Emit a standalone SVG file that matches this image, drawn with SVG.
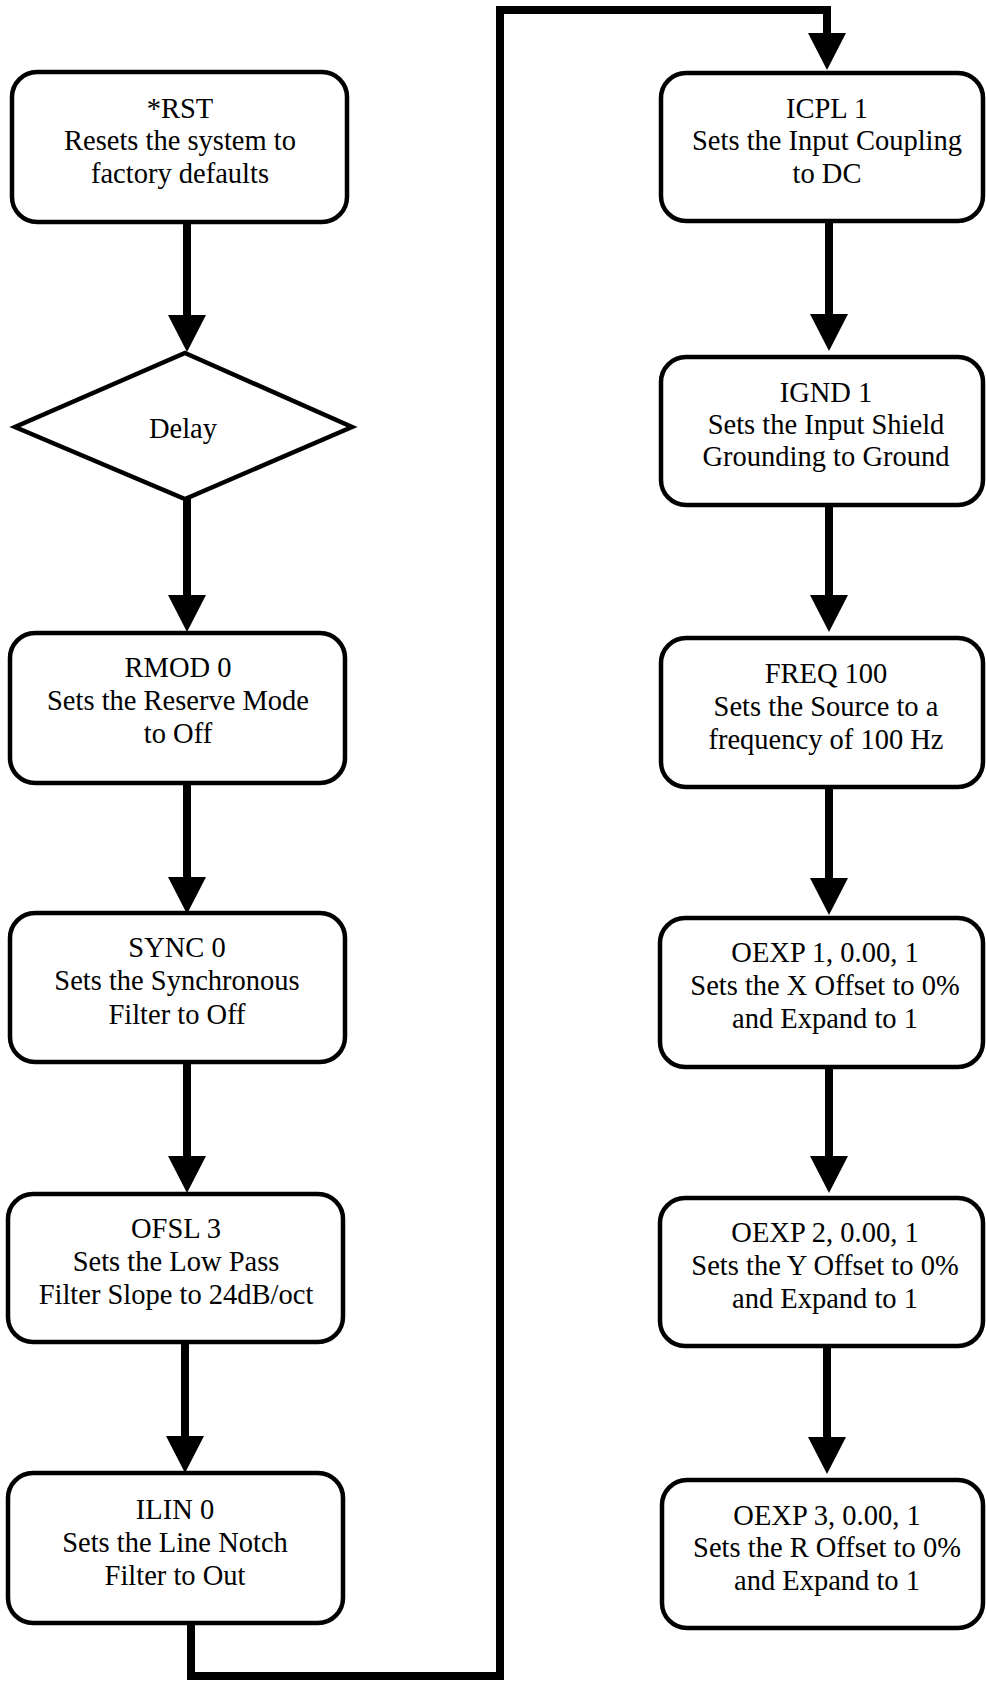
<svg xmlns="http://www.w3.org/2000/svg" width="986" height="1681" viewBox="0 0 986 1681">
<style>
  .box { fill: #fff; stroke: #000; stroke-width: 4.5; }
  .conn { fill: none; stroke: #000; stroke-width: 8; stroke-linejoin: miter; }
  text { font-family: "Liberation Serif", "Times New Roman", serif; font-size: 28.5px; fill: #000; text-anchor: middle; }
</style>
<defs>
  <marker id="ah" markerUnits="userSpaceOnUse" markerWidth="40" markerHeight="40" refX="1" refY="19" orient="auto">
    <path d="M0,0 L37,19 L0,38 z" fill="#000"/>
  </marker>
</defs>

<g id="connectors">
  <path class="conn" d="M187,222 V316" marker-end="url(#ah)"/>
  <path class="conn" d="M187,499 V596" marker-end="url(#ah)"/>
  <path class="conn" d="M187,783 V878" marker-end="url(#ah)"/>
  <path class="conn" d="M187,1062 V1157" marker-end="url(#ah)"/>
  <path class="conn" d="M185,1342 V1437" marker-end="url(#ah)"/>
  <path class="conn" d="M191,1623 V1676 H500 V10 H827 V34" marker-end="url(#ah)"/>
  <path class="conn" d="M829,221 V315" marker-end="url(#ah)"/>
  <path class="conn" d="M829,505 V596" marker-end="url(#ah)"/>
  <path class="conn" d="M829,787 V879" marker-end="url(#ah)"/>
  <path class="conn" d="M829,1067 V1157" marker-end="url(#ah)"/>
  <path class="conn" d="M827,1346 V1438" marker-end="url(#ah)"/>
</g>

<g id="node-rst">
  <rect class="box" x="12" y="72" width="335" height="150" rx="25"/>
  <text x="180" y="118">*RST</text>
  <text x="180" y="150">Resets the system to</text>
  <text x="180" y="183">factory defaults</text>
</g>
<g id="node-delay">
  <polygon class="box" points="185,353 352,427 185,499 15,427"/>
  <text x="183" y="438">Delay</text>
</g>
<g id="node-rmod">
  <rect class="box" x="10" y="633" width="335" height="150" rx="25"/>
  <text x="178" y="677">RMOD 0</text>
  <text x="178" y="710">Sets the Reserve Mode</text>
  <text x="178" y="743">to Off</text>
</g>
<g id="node-sync">
  <rect class="box" x="10" y="913" width="335" height="149" rx="25"/>
  <text x="177" y="957">SYNC 0</text>
  <text x="177" y="990">Sets the Synchronous</text>
  <text x="177" y="1024">Filter to Off</text>
</g>
<g id="node-ofsl">
  <rect class="box" x="8" y="1194" width="335" height="148" rx="25"/>
  <text x="176" y="1238">OFSL 3</text>
  <text x="176" y="1271">Sets the Low Pass</text>
  <text x="176" y="1304">Filter Slope to 24dB/oct</text>
</g>
<g id="node-ilin">
  <rect class="box" x="8" y="1473" width="335" height="150" rx="25"/>
  <text x="175" y="1519">ILIN 0</text>
  <text x="175" y="1552">Sets the Line Notch</text>
  <text x="175" y="1585">Filter to Out</text>
</g>

<g id="node-icpl">
  <rect class="box" x="661" y="73" width="322" height="148" rx="25"/>
  <text x="827" y="118">ICPL 1</text>
  <text x="827" y="150">Sets the Input Coupling</text>
  <text x="827" y="183">to DC</text>
</g>
<g id="node-ignd">
  <rect class="box" x="661" y="357" width="322" height="148" rx="25"/>
  <text x="826" y="402">IGND 1</text>
  <text x="826" y="434">Sets the Input Shield</text>
  <text x="826" y="466">Grounding to Ground</text>
</g>
<g id="node-freq">
  <rect class="box" x="661" y="638" width="322" height="149" rx="25"/>
  <text x="826" y="683">FREQ 100</text>
  <text x="826" y="716">Sets the Source to a</text>
  <text x="826" y="749">frequency of 100 Hz</text>
</g>
<g id="node-oexp1">
  <rect class="box" x="660" y="918" width="323" height="149" rx="25"/>
  <text x="825" y="962">OEXP 1, 0.00, 1</text>
  <text x="825" y="995">Sets the X Offset to 0%</text>
  <text x="825" y="1028">and Expand to 1</text>
</g>
<g id="node-oexp2">
  <rect class="box" x="660" y="1198" width="323" height="148" rx="25"/>
  <text x="825" y="1242">OEXP 2, 0.00, 1</text>
  <text x="825" y="1275">Sets the Y Offset to 0%</text>
  <text x="825" y="1308">and Expand to 1</text>
</g>
<g id="node-oexp3">
  <rect class="box" x="662" y="1480" width="321" height="148" rx="25"/>
  <text x="827" y="1525">OEXP 3, 0.00, 1</text>
  <text x="827" y="1557">Sets the R Offset to 0%</text>
  <text x="827" y="1590">and Expand to 1</text>
</g>
</svg>
